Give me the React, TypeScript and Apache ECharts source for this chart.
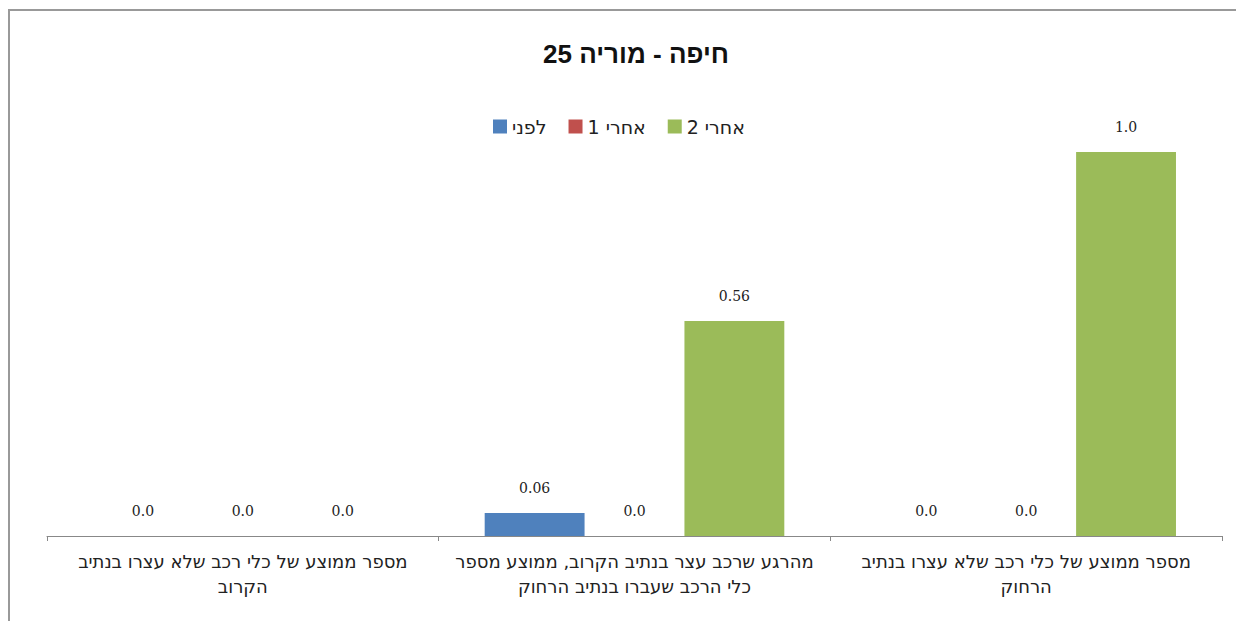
import React, { useEffect, useRef } from "react";
import * as echarts from "echarts";

const titleText = "חיפה - מוריה 25";
const categories = [
  "מספר ממוצע של כלי רכב שלא עצרו בנתיב\nהרחוק",
  "מהרגע שרכב עצר בנתיב הקרוב, ממוצע מספר\nכלי הרכב שעברו בנתיב הרחוק",
  "מספר ממוצע של כלי רכב שלא עצרו בנתיב\nהקרוב",
];
const seriesNames = ["לפני", "אחרי 1", "אחרי 2"];
const beforeValues = [0, 0.06, 0];
const after1Values = [0, 0, 0];
const after2Values = [1.0, 0.56, 0];
const seriesColors = ["#4F81BD", "#C0504D", "#9BBB59"];

function fmt(v: number): string {
  const t = v * 10;
  if (Math.abs(t - Math.round(t)) < 1e-9) return v.toFixed(1);
  return String(v);
}

export default function App() {
  const ref = useRef<HTMLDivElement>(null);
  useEffect(() => {
    if (!ref.current) return;
    const chart = echarts.init(ref.current, null, { renderer: "svg" });
    const values = [beforeValues, after1Values, after2Values];
    chart.setOption({
      animation: false,
      backgroundColor: "#ffffff",
      title: {
        text: titleText,
        left: 631,
        top: 36,
        textAlign: "center",
        textStyle: {
          fontFamily: "Liberation Sans",
          fontWeight: "bold",
          fontSize: 26,
          color: "#111",
        },
      },
      legend: {
        data: seriesNames,
        left: 488,
        top: 112,
        itemWidth: 14,
        itemHeight: 14,
        itemGap: 22,
        icon: "rect",
        textStyle: {
          fontFamily: "DejaVu Sans",
          fontSize: 19,
          color: "#222",
        },
      },
      grid: { left: 47, right: 14, top: 152, bottom: 85 },
      xAxis: {
        type: "category",
        data: categories,
        inverse: true,
        axisLine: { lineStyle: { color: "#888", width: 1 } },
        axisTick: { show: true, length: 5, lineStyle: { color: "#888" } },
        axisLabel: {
          interval: 0,
          margin: 13,
          lineHeight: 25,
          fontSize: 18,
          fontFamily: "DejaVu Sans",
          color: "#222",
          align: "center",
        },
      },
      yAxis: {
        type: "value",
        show: false,
        min: 0,
        max: 1,
        splitLine: { show: false },
      },
      graphic: [
        {
          type: "rect",
          shape: { x: 9, y: 10, width: 1300, height: 700 },
          style: { fill: "none", stroke: "#999", lineWidth: 2 },
          silent: true,
        },
      ],
      series: seriesNames.map((name, i) => ({
        name,
        type: "bar",
        data: values[i],
        barGap: "0%",
        barCategoryGap: "23.5%",
        itemStyle: { color: seriesColors[i] },
        label: {
          show: true,
          position: "top",
          distance: 18,
          fontFamily: "DejaVu Serif",
          fontSize: 14,
          color: "#222",
          formatter: (p: any) => fmt(p.value),
        },
      })),
    });
    return () => chart.dispose();
  }, []);
  return (
    <div
      ref={ref}
      style={{ position: "fixed", left: 0, top: 0, width: 1236, height: 621 }}
    />
  );
}
